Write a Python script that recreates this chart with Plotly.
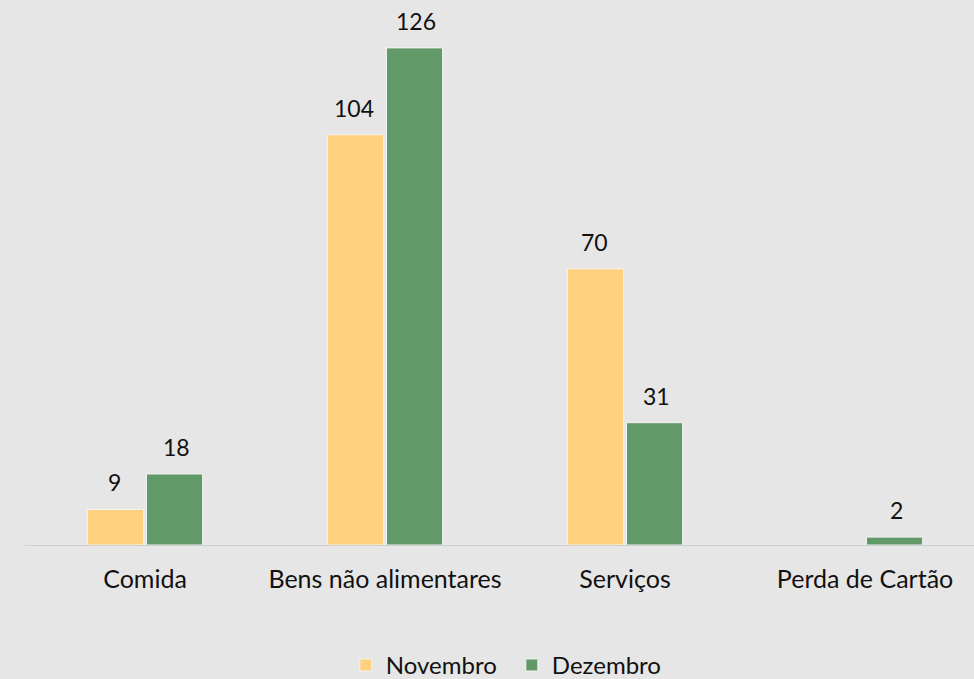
import plotly.graph_objects as go

categories = ["Comida", "Bens não alimentares", "Serviços", "Perda de Cartão"]
novembro = [9, 104, 70, None]
dezembro = [18, 126, 31, 2]

series = [
    ("Novembro", novembro, "#FFD17F", -31),
    ("Dezembro", dezembro, "#629969", 31),
]

FONT = "Lato"
TEXT_COLOR = "#111111"

fig = go.Figure()
annotations = []
for name, values, color, shift in series:
    fig.add_trace(go.Bar(
        name=name,
        x=categories,
        y=values,
        marker=dict(color=color, line=dict(color="#F2F2F2", width=1)),
    ))
    for cat, val in zip(categories, values):
        if val is None:
            continue
        annotations.append(dict(
            x=cat, y=val, xref="x", yref="y",
            text=str(val), showarrow=False,
            xshift=shift, yshift=27,
            font=dict(family=FONT, size=23, color=TEXT_COLOR),
        ))

fig.update_layout(
    width=974, height=679,
    margin=dict(l=25, r=0, t=10, b=134, autoexpand=False),
    paper_bgcolor="#E7E6E6",
    plot_bgcolor="#E7E6E6",
    barmode="group",
    bargap=0.508,
    bargroupgap=0.05,
    annotations=annotations,
    showlegend=True,
    legend=dict(
        orientation="h", x=0.513, xanchor="center", y=-0.225, yanchor="middle",
        font=dict(family=FONT, size=24, color=TEXT_COLOR),
        bgcolor="rgba(0,0,0,0)", traceorder="normal",
        entrywidth=121, entrywidthmode="pixels",
    ),
    font=dict(family=FONT, size=25, color=TEXT_COLOR),
)
fig.update_xaxes(
    range=[-0.5, 3.454], automargin=False,
    showline=True, linecolor="#D0CFCF", linewidth=1,
    showgrid=False, ticks="", ticklabelstandoff=12,
    tickfont=dict(family=FONT, size=25, color=TEXT_COLOR),
)
fig.update_yaxes(
    range=[0, 135.6], visible=False, showgrid=False, zeroline=False,
    automargin=False,
)

fig.write_html("out.html")
